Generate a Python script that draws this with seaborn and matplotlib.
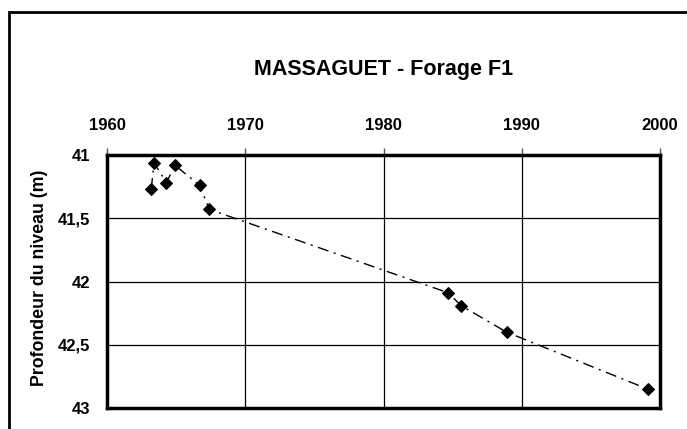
import matplotlib
matplotlib.use("Agg")
import matplotlib.pyplot as plt
from matplotlib.patches import Rectangle
from matplotlib.ticker import FuncFormatter
import pandas as pd
import seaborn as sns

# water level readings, year vs depth (m)
years = [1963.2, 1963.4, 1964.3, 1964.9, 1966.7, 1967.4, 1984.7, 1985.6, 1988.9, 1999.1]
depths = [41.27, 41.06, 41.22, 41.08, 41.24, 41.43, 42.09, 42.19, 42.40, 42.85]

x_ticks = [1960, 1970, 1980, 1990, 2000]
y_ticks = [41, 41.5, 42, 42.5, 43]

sns.set_style("white")
plt.rcParams['font.family'] = ['Liberation Sans', 'DejaVu Sans']
plt.rcParams['font.weight'] = 'bold'
plt.rcParams['text.color'] = 'black'
plt.rcParams['xtick.labelcolor'] = 'black'
plt.rcParams['ytick.labelcolor'] = 'black'

df = pd.DataFrame({"annee": years, "profondeur": depths})

fig = plt.figure(figsize=(6.87, 4.29), dpi=100)
ax = fig.add_axes([107 / 687, 1 - 408 / 429, (660 - 107) / 687, (408 - 155) / 429])

sns.lineplot(data=df, x="annee", y="profondeur", ax=ax, sort=False, color="black",
             marker="D", markersize=6.5, markeredgecolor="black", linewidth=1,
             linestyle=(0, (8, 4, 1.5, 4)))

ax.set_xlim(1960, 2000)
ax.set_ylim(43, 41)
ax.set_xticks(x_ticks)
ax.set_yticks(y_ticks)
ax.yaxis.set_major_formatter(FuncFormatter(lambda v, p: ("%g" % v).replace(".", ",")))
ax.xaxis.tick_top()
ax.tick_params(axis="both", direction="out", length=5, width=1, color="#555555",
               labelsize=12, labelcolor="black")
ax.tick_params(axis="x", pad=11)
ax.tick_params(axis="y", pad=7)
ax.grid(True, color="black", linewidth=0.9)
for s in ax.spines.values():
    s.set_linewidth(2.5)
    s.set_color("black")

ax.set_xlabel("")
ax.set_ylabel("")
for lab in ax.get_xticklabels() + ax.get_yticklabels():
    lab.set_fontweight("bold")

fig.text(40 / 687, 1 - 278 / 429, "Profondeur du niveau (m)", rotation=90,
         ha="center", va="center", fontsize=12.8, fontweight="bold")
fig.text((107 + 660) / 2 / 687, 1 - 70 / 429, "MASSAGUET - Forage F1",
         ha="center", va="center", fontsize=15.5, fontweight="bold")

fig.patches.append(Rectangle((9 / 687, -0.2), 1.2, 1 - 12 / 429 + 0.2, transform=fig.transFigure,
                             fill=False, edgecolor="black", linewidth=2))

fig.savefig("out.png", dpi=100)
